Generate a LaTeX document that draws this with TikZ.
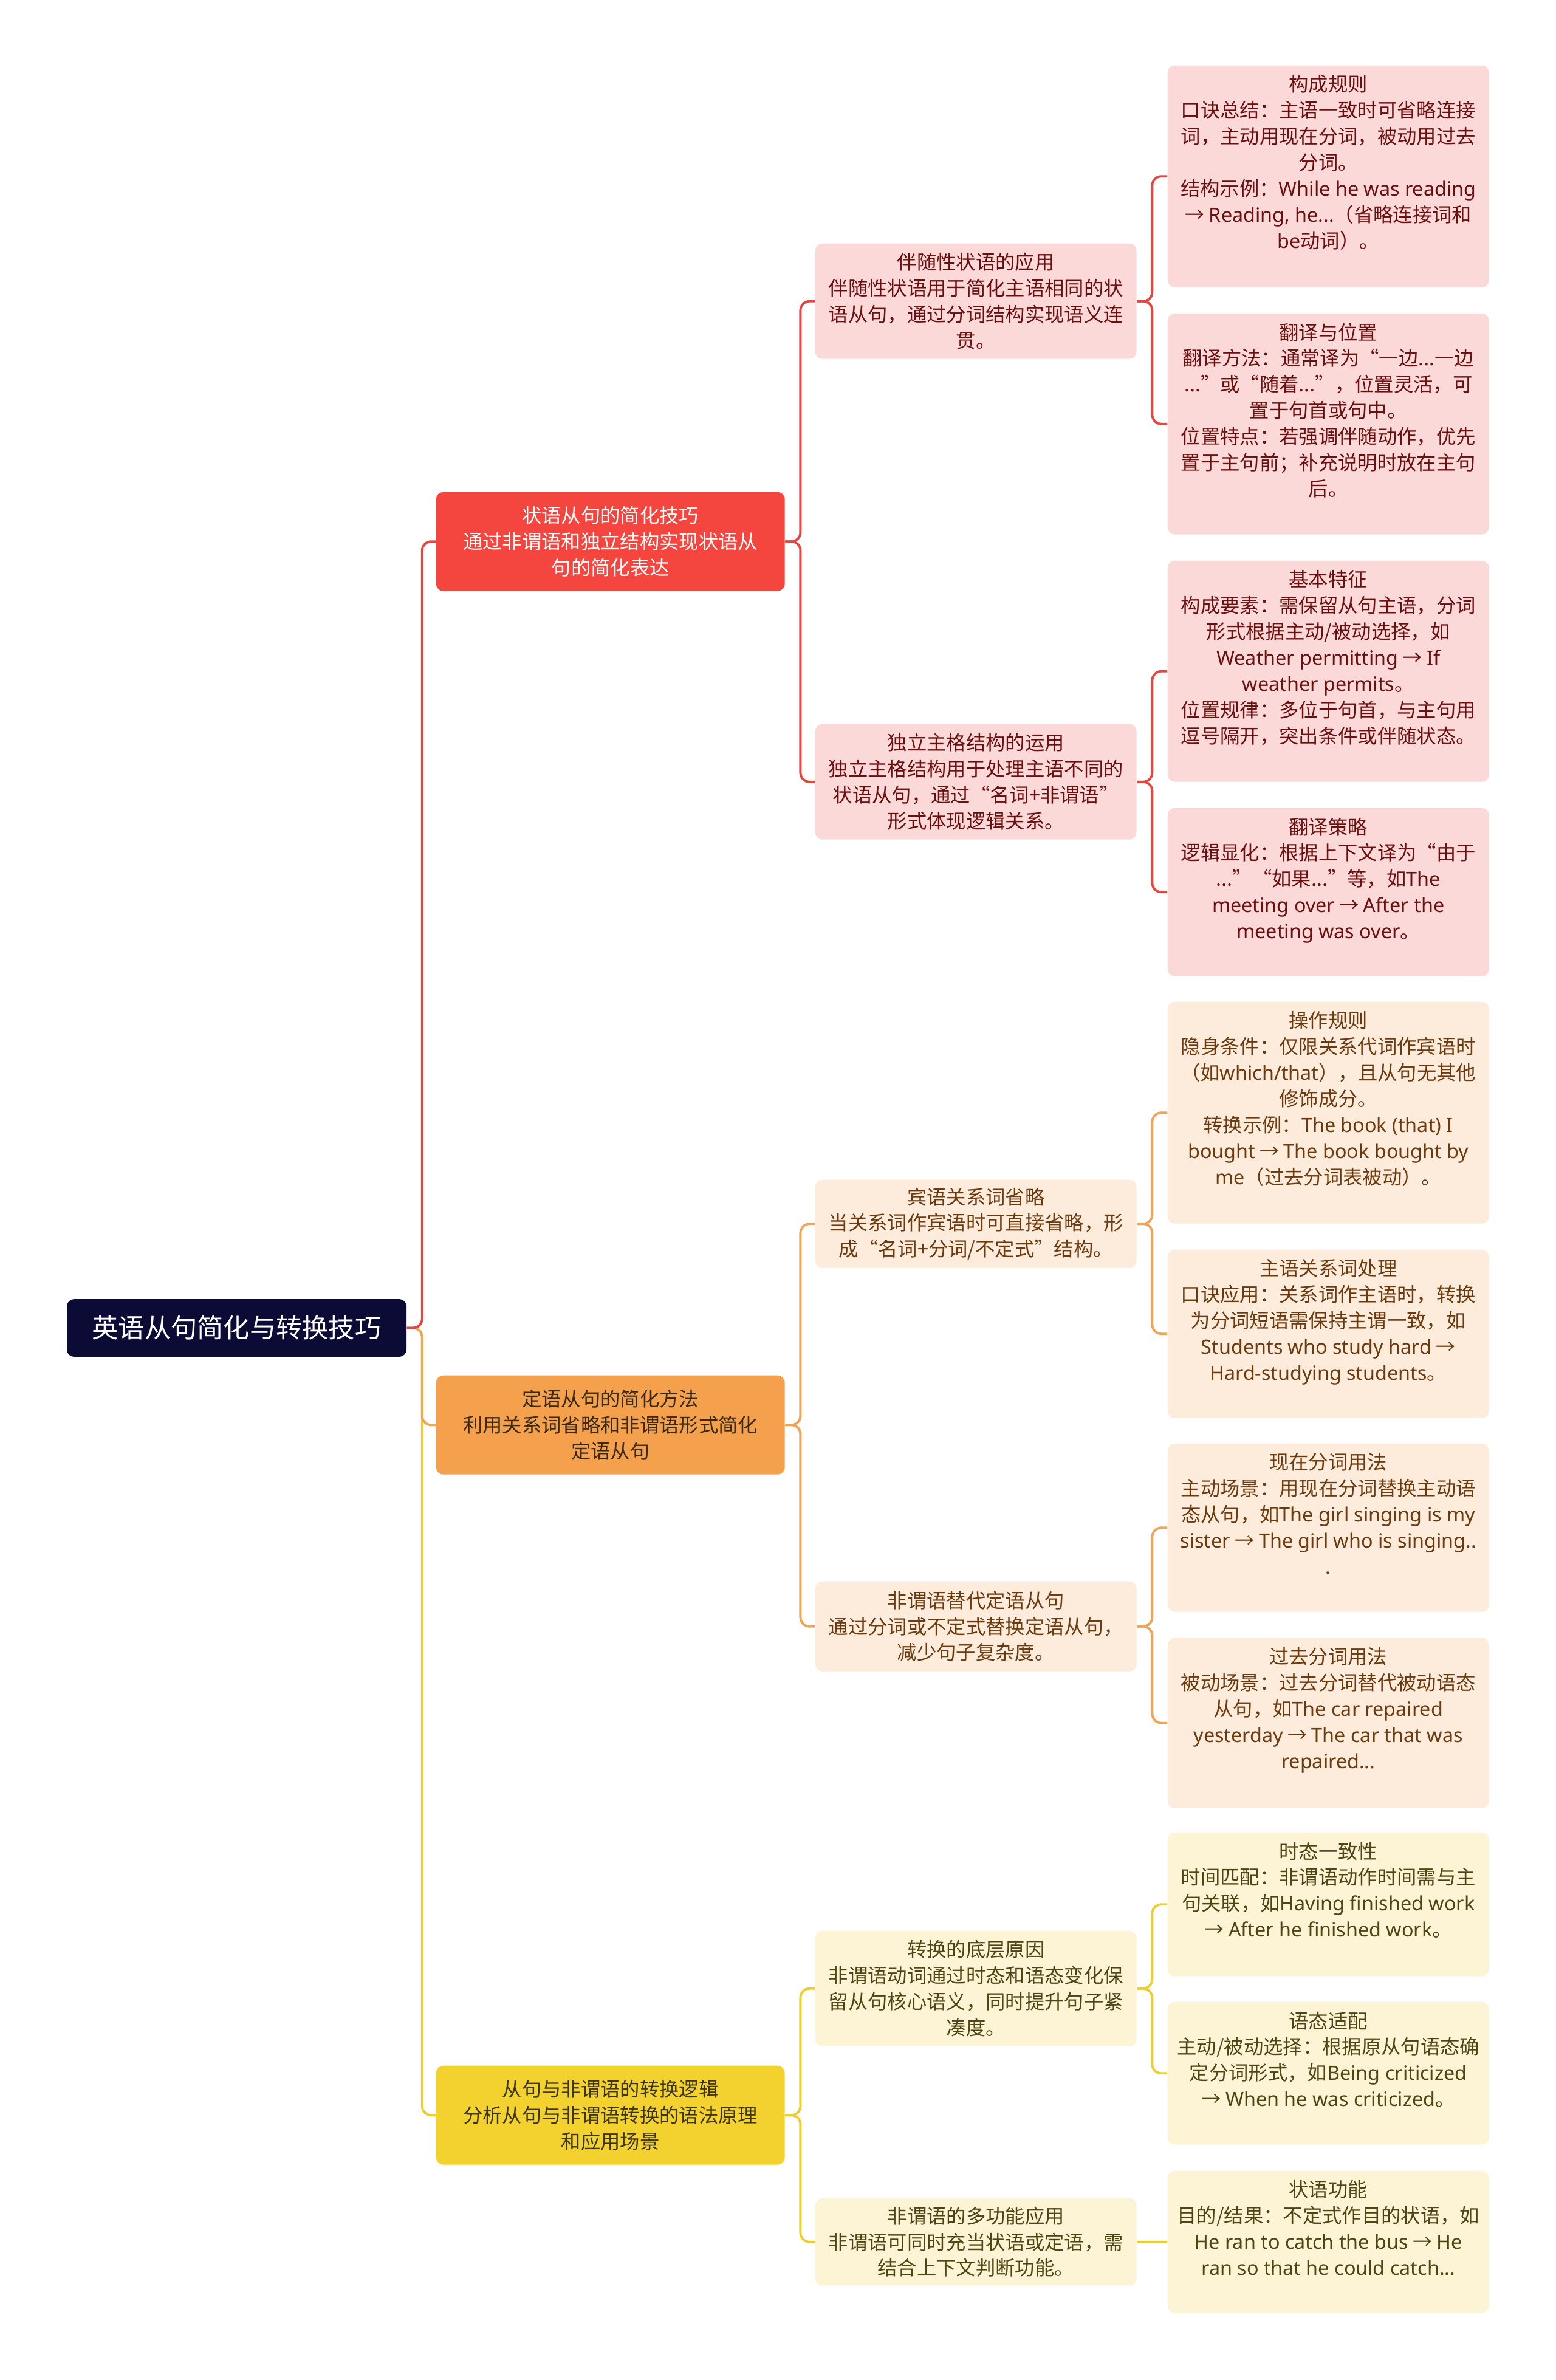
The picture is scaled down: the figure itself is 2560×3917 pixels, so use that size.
\documentclass[tikz,border=0pt]{standalone}
\usepackage{fontspec}
\setmainfont{Noto Sans CJK SC}
\newfontfamily\engfont{Noto Sans}
\newcommand{\eng}[1]{{\engfont #1}}
\newcommand{\leaftext}[2]{\parbox[t][#1][t]{51.5mm}{\centering #2}}

\definecolor{rootblue}{HTML}{0C0B35}
\definecolor{redmain}{HTML}{F4453E}
\definecolor{redlight}{HTML}{FCD9D9}
\definecolor{redtext}{HTML}{6B0F0F}
\definecolor{redline}{HTML}{E8453F}
\definecolor{orangemain}{HTML}{F5A04C}
\definecolor{orangelight}{HTML}{FDEBDB}
\definecolor{orangetext}{HTML}{6B3A0E}
\definecolor{orangedark}{HTML}{3A2A14}
\definecolor{orangeline}{HTML}{F0A455}
\definecolor{yellowmain}{HTML}{F3D22F}
\definecolor{yellowlight}{HTML}{FCF4D4}
\definecolor{yellowtext}{HTML}{4F4513}
\definecolor{yellowdark}{HTML}{3D3510}
\definecolor{yellowline}{HTML}{EFCD2F}

\begin{document}
\begin{tikzpicture}[x=0.1mm, y=-0.1mm,
    every node/.style={font=\fontsize{9.2pt}{12.2pt}\selectfont, inner xsep=0.7mm},
    rootbox/.style={fill=rootblue, text=white, rounded corners=1.2mm, minimum width=55.9mm,
        minimum height=9.5mm, font=\fontsize{12.3pt}{14pt}\selectfont},
    topicbox/.style={rounded corners=1.2mm, text width=56mm, align=center, minimum height=16.3mm, anchor=north west},
    subbox/.style={rounded corners=1.2mm, text width=51.5mm, align=center, anchor=north west},
    leafbox/.style={rounded corners=1.2mm, inner ysep=1.6mm, anchor=north west},
    redsub/.style={fill=redlight, text=redtext},
    orangesub/.style={fill=orangelight, text=orangetext},
    yellowsub/.style={fill=yellowlight, text=yellowtext},
    link/.style={line width=1.1pt, rounded corners=1.5mm},
]

    \path[use as bounding box, fill=white] (0, 0) rectangle (2560, 3917);

    % Root and first level
    \node[rootbox] (root) at (389.5, 2185.5) {英语从句简化与转换技巧};

    \node[topicbox, fill=redmain, text=white] (advcl) at (717, 809)
        {状语从句的简化技巧\\通过非谓语和独立结构实现状语从\\句的简化表达};
    \node[topicbox, fill=orangemain, text=orangedark] (attrcl) at (717, 2263)
        {定语从句的简化方法\\利用关系词省略和非谓语形式简化\\定语从句};
    \node[topicbox, fill=yellowmain, text=yellowdark] (convert) at (717, 3399)
        {从句与非谓语的转换逻辑\\分析从句与非谓语转换的语法原理\\和应用场景};

    % Second level
    \node[subbox, redsub, minimum height=19mm] (accomp) at (1341, 400)
        {伴随性状语的应用\\伴随性状语用于简化主语相同的状\\语从句，通过分词结构实现语义连\\贯。};
    \node[subbox, redsub, minimum height=19mm] (absolute) at (1341, 1191)
        {独立主格结构的运用\\独立主格结构用于处理主语不同的\\状语从句，通过“名词+非谓语”\\形式体现逻辑关系。};
    \node[subbox, orangesub, minimum height=14.5mm] (objomit) at (1341, 1941)
        {宾语关系词省略\\当关系词作宾语时可直接省略，形\\成“名词+分词/不定式”结构。};
    \node[subbox, orangesub, minimum height=14.8mm] (nonfin) at (1341, 2602)
        {非谓语替代定语从句\\通过分词或不定式替换定语从句，\\减少句子复杂度。};
    \node[subbox, yellowsub, minimum height=19mm] (reason) at (1341, 3177)
        {转换的底层原因\\非谓语动词通过时态和语态变化保\\留从句核心语义，同时提升句子紧\\凑度。};
    \node[subbox, yellowsub, minimum height=14.4mm] (multi) at (1341, 3617)
        {非谓语的多功能应用\\非谓语可同时充当状语或定语，需\\结合上下文判断功能。};

    % Third level
    \node[leafbox, redsub] (rule) at (1921, 107) {\leaftext{33.3mm}{构成规则\\口诀总结：主语一致时可省略连接\\词，主动用现在分词，被动用过去\\分词。\\结构示例：\eng{While he was reading}\\→ \eng{Reading, he...}（省略连接词和\\\eng{be}动词）。}};
    \node[leafbox, redsub] (transpos) at (1921, 515) {\leaftext{33.2mm}{翻译与位置\\翻译方法：通常译为“一边...一边\\...”或“随着...”，位置灵活，可\\置于句首或句中。\\位置特点：若强调伴随动作，优先\\置于主句前；补充说明时放在主句\\后。}};
    \node[leafbox, redsub] (feature) at (1921, 922) {\leaftext{33.2mm}{基本特征\\构成要素：需保留从句主语，分词\\形式根据主动/被动选择，如\\\eng{Weather permitting} → \eng{If}\\\eng{weather permits}。\\位置规律：多位于句首，与主句用\\逗号隔开，突出条件或伴随状态。}};
    \node[leafbox, redsub] (strategy) at (1921, 1329) {\leaftext{24.5mm}{翻译策略\\逻辑显化：根据上下文译为“由于\\...”“如果...”等，如\eng{The}\\\eng{meeting over} → \eng{After the}\\\eng{meeting was over}。}};

    \node[leafbox, orangesub] (oprule) at (1921, 1648) {\leaftext{33.3mm}{操作规则\\隐身条件：仅限关系代词作宾语时\\（如\eng{which/that}），且从句无其他\\修饰成分。\\转换示例：\eng{The book (that) I}\\\eng{bought} → \eng{The book bought by}\\\eng{me}（过去分词表被动）。}};
    \node[leafbox, orangesub] (subjrel) at (1921, 2056) {\leaftext{24.5mm}{主语关系词处理\\口诀应用：关系词作主语时，转换\\为分词短语需保持主谓一致，如\\\eng{Students who study hard} →\\\eng{Hard-studying students}。}};
    \node[leafbox, orangesub] (present) at (1921, 2375) {\leaftext{24.5mm}{现在分词用法\\主动场景：用现在分词替换主动语\\态从句，如\eng{The girl singing is my}\\\eng{sister} → \eng{The girl who is singing..}\\\eng{.}}};
    \node[leafbox, orangesub] (past) at (1921, 2695) {\leaftext{24.8mm}{过去分词用法\\被动场景：过去分词替代被动语态\\从句，如\eng{The car repaired}\\\eng{yesterday} → \eng{The car that was}\\\eng{repaired...}}};

    \node[leafbox, yellowsub] (tense) at (1921, 3015) {\leaftext{20.5mm}{时态一致性\\时间匹配：非谓语动作时间需与主\\句关联，如\eng{Having finished work}\\→ \eng{After he finished work}。}};
    \node[leafbox, yellowsub] (voice) at (1921, 3294) {\leaftext{20.3mm}{语态适配\\主动/被动选择：根据原从句语态确\\定分词形式，如\eng{Being criticized}\\→ \eng{When he was criticized}。}};
    \node[leafbox, yellowsub] (adverbial) at (1921, 3572) {\leaftext{20.2mm}{状语功能\\目的/结果：不定式作目的状语，如\\\eng{He ran to catch the bus} → \eng{He}\\\eng{ran so that he could catch...}}};

    % Connectors
    \draw[link, yellowline] (root.east) -- ++(2.5mm,0) |- (convert.west);
    \draw[link, orangeline] (root.east) -- ++(2.5mm,0) |- (attrcl.west);
    \draw[link, redline] (root.east) -- ++(2.5mm,0) |- (advcl.west);

    \draw[link, redline] (advcl.east) -- ++(2.5mm,0) |- (accomp.west);
    \draw[link, redline] (advcl.east) -- ++(2.5mm,0) |- (absolute.west);
    \draw[link, orangeline] (attrcl.east) -- ++(2.5mm,0) |- (objomit.west);
    \draw[link, orangeline] (attrcl.east) -- ++(2.5mm,0) |- (nonfin.west);
    \draw[link, yellowline] (convert.east) -- ++(2.5mm,0) |- (reason.west);
    \draw[link, yellowline] (convert.east) -- ++(2.5mm,0) |- (multi.west);

    \draw[link, redline] (accomp.east) -- ++(2.5mm,0) |- (rule.west);
    \draw[link, redline] (accomp.east) -- ++(2.5mm,0) |- (transpos.west);
    \draw[link, redline] (absolute.east) -- ++(2.5mm,0) |- (feature.west);
    \draw[link, redline] (absolute.east) -- ++(2.5mm,0) |- (strategy.west);
    \draw[link, orangeline] (objomit.east) -- ++(2.5mm,0) |- (oprule.west);
    \draw[link, orangeline] (objomit.east) -- ++(2.5mm,0) |- (subjrel.west);
    \draw[link, orangeline] (nonfin.east) -- ++(2.5mm,0) |- (present.west);
    \draw[link, orangeline] (nonfin.east) -- ++(2.5mm,0) |- (past.west);
    \draw[link, yellowline] (reason.east) -- ++(2.5mm,0) |- (tense.west);
    \draw[link, yellowline] (reason.east) -- ++(2.5mm,0) |- (voice.west);
    \draw[link, yellowline] (multi.east) -- (adverbial.west);
\end{tikzpicture}
\end{document}
